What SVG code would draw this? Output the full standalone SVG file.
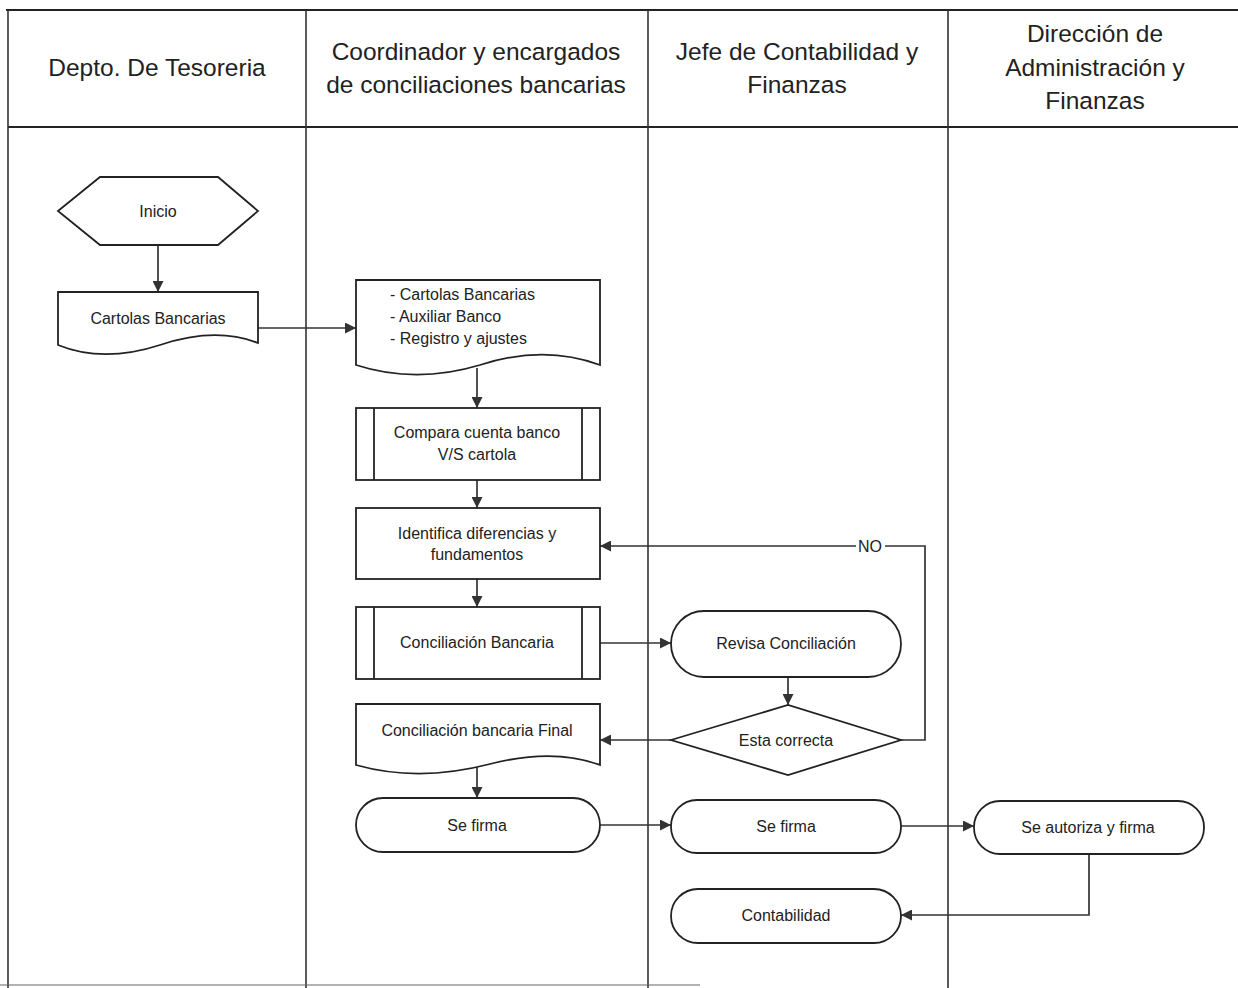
<svg xmlns="http://www.w3.org/2000/svg" width="1238" height="988" viewBox="0 0 1238 988">
<defs>
<marker id="arr" viewBox="0 0 10 10" refX="10" refY="5" markerWidth="12" markerHeight="11" markerUnits="userSpaceOnUse" orient="auto">
<path d="M0,0 L10,5 L0,10 z" fill="#333"/>
</marker>
<style>
.frame{stroke:#222;stroke-width:2.2;fill:none}
.lane{stroke:#333;stroke-width:1.6;fill:none}
.hdr{font-family:"Liberation Sans",Arial,sans-serif;font-size:24.5px;fill:#222;text-anchor:middle}
.shape{fill:#fff;stroke:#222;stroke-width:1.8}
.txt{font-family:"Liberation Sans",Arial,sans-serif;font-size:16px;fill:#222;text-anchor:middle}
.conn{stroke:#333;stroke-width:1.7;fill:none}
</style>
</defs>
<rect width="1238" height="988" fill="#fff"/>
<g id="lanes">
<line class="frame" x1="6" y1="10" x2="1238" y2="10"/>
<line class="frame" x1="8" y1="127" x2="1238" y2="127"/>
<line class="lane" x1="8" y1="10" x2="8" y2="988"/>
<line class="lane" x1="306" y1="10" x2="306" y2="988"/>
<line class="lane" x1="648" y1="10" x2="648" y2="988"/>
<line class="lane" x1="948" y1="10" x2="948" y2="988"/>
<line x1="0" y1="985" x2="700" y2="985" stroke="#666" stroke-width="1.2"/>
<text class="hdr" x="157" y="76">Depto. De Tesoreria</text>
<text class="hdr" x="476" y="60">Coordinador y encargados</text>
<text class="hdr" x="476" y="93">de conciliaciones bancarias</text>
<text class="hdr" x="797" y="60">Jefe de Contabilidad y</text>
<text class="hdr" x="797" y="93">Finanzas</text>
<text class="hdr" x="1095" y="42">Dirección de</text>
<text class="hdr" x="1095" y="76">Administración y</text>
<text class="hdr" x="1095" y="109">Finanzas</text>
</g>
<g id="connectors">
<line class="conn" x1="158" y1="245" x2="158" y2="292" marker-end="url(#arr)"/>
<line class="conn" x1="258" y1="328" x2="356" y2="328" marker-end="url(#arr)"/>
<line class="conn" x1="477" y1="368" x2="477" y2="408" marker-end="url(#arr)"/>
<line class="conn" x1="477" y1="480" x2="477" y2="508" marker-end="url(#arr)"/>
<line class="conn" x1="477" y1="579" x2="477" y2="607" marker-end="url(#arr)"/>
<line class="conn" x1="600" y1="643" x2="671" y2="643" marker-end="url(#arr)"/>
<line class="conn" x1="788" y1="677" x2="788" y2="705" marker-end="url(#arr)"/>
<line class="conn" x1="671" y1="740" x2="600" y2="740" marker-end="url(#arr)"/>
<polyline class="conn" points="901,740 925,740 925,546 600,546" marker-end="url(#arr)"/>
<rect x="856" y="537" width="29" height="18" fill="#fff"/>
<text class="txt" x="870" y="552">NO</text>
<line class="conn" x1="477" y1="762" x2="477" y2="798" marker-end="url(#arr)"/>
<line class="conn" x1="600" y1="825" x2="671" y2="825" marker-end="url(#arr)"/>
<line class="conn" x1="901" y1="826" x2="974" y2="826" marker-end="url(#arr)"/>
<polyline class="conn" points="1089,854 1089,915 901,915" marker-end="url(#arr)"/>
</g>
<g id="inicio">
<polygon class="shape" points="58,211 100,177 218,177 258,211 218,245 100,245"/>
<text class="txt" x="158" y="217">Inicio</text>
</g>
<g id="cartolas">
<path class="shape" d="M58,292 H258 V343 C225,330 190,335 160,345 C120,358 85,356 58,345 Z"/>
<text class="txt" x="158" y="324">Cartolas Bancarias</text>
</g>
<g id="documentos">
<path class="shape" d="M356,280 H600 V365 C560,350 520,352 480,365 C430,380 390,376 356,365 Z"/>
<text class="txt" x="390" y="300" style="text-anchor:start">- Cartolas Bancarias</text>
<text class="txt" x="390" y="322" style="text-anchor:start">- Auxiliar Banco</text>
<text class="txt" x="390" y="344" style="text-anchor:start">- Registro y ajustes</text>
</g>
<g id="compara">
<rect class="shape" x="356" y="408" width="244" height="72"/>
<line class="shape" x1="374" y1="408" x2="374" y2="480"/>
<line class="shape" x1="582" y1="408" x2="582" y2="480"/>
<text class="txt" x="477" y="438">Compara cuenta banco</text>
<text class="txt" x="477" y="460">V/S cartola</text>
</g>
<g id="identifica">
<rect class="shape" x="356" y="508" width="244" height="71"/>
<text class="txt" x="477" y="539">Identifica diferencias y</text>
<text class="txt" x="477" y="560">fundamentos</text>
</g>
<g id="conciliacion">
<rect class="shape" x="356" y="607" width="244" height="72"/>
<line class="shape" x1="374" y1="607" x2="374" y2="679"/>
<line class="shape" x1="582" y1="607" x2="582" y2="679"/>
<text class="txt" x="477" y="648">Conciliación Bancaria</text>
</g>
<g id="revisa">
<rect class="shape" x="671" y="611" width="230" height="66" rx="33"/>
<text class="txt" x="786" y="649">Revisa Conciliación</text>
</g>
<g id="decision">
<polygon class="shape" points="671,740 788,705 901,740 788,775"/>
<text class="txt" x="786" y="746">Esta correcta</text>
</g>
<g id="final">
<path class="shape" d="M356,704 H600 V765 C565,752 525,755 490,764 C440,777 395,776 356,765 Z"/>
<text class="txt" x="477" y="736">Conciliación bancaria Final</text>
</g>
<g id="firma1">
<rect class="shape" x="356" y="798" width="244" height="54" rx="27"/>
<text class="txt" x="477" y="831">Se firma</text>
</g>
<g id="firma2">
<rect class="shape" x="671" y="800" width="230" height="53" rx="26"/>
<text class="txt" x="786" y="832">Se firma</text>
</g>
<g id="autoriza">
<rect class="shape" x="974" y="801" width="230" height="53" rx="26"/>
<text class="txt" x="1088" y="833">Se autoriza y firma</text>
</g>
<g id="contabilidad">
<rect class="shape" x="671" y="889" width="230" height="54" rx="27"/>
<text class="txt" x="786" y="921">Contabilidad</text>
</g>
</svg>
